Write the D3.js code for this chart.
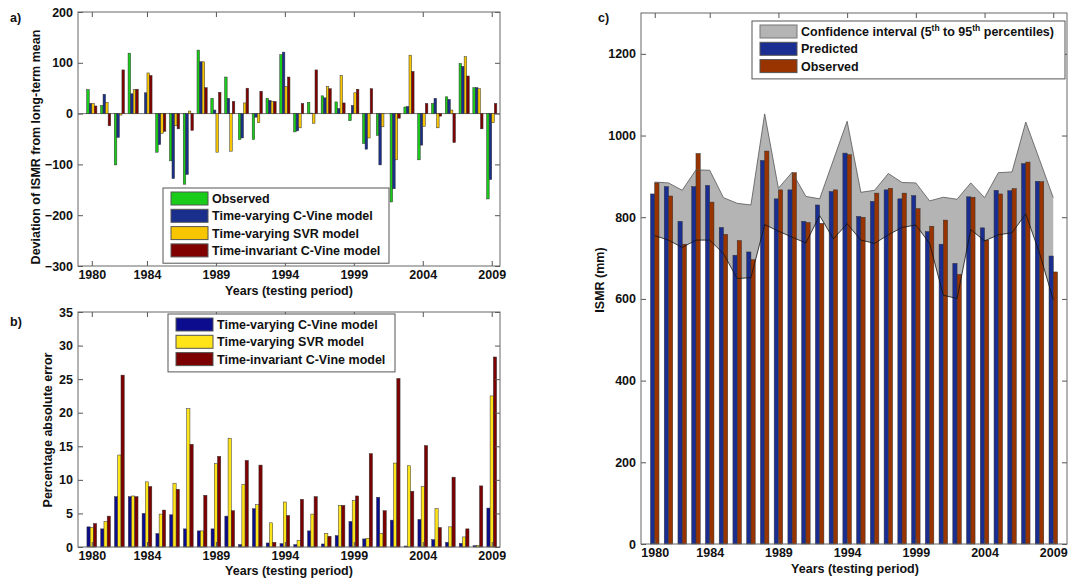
<!DOCTYPE html>
<html>
<head>
<meta charset="utf-8">
<script src="https://cdn.jsdelivr.net/npm/d3@7"></script>
<style>
  body { margin: 0; background: #fff; }
  text { font-family: "Liberation Sans", Arial, sans-serif; font-weight: bold; font-size: 12.5px; fill: #111; }
</style>
</head>
<body>
<script>
// data
var years = d3.range(1980, 2010);
var tickYears = [1980, 1984, 1989, 1994, 1999, 2004, 2009];

// panel a - deviation from long-term mean (mm)
var devObserved = [47, 16, -101, 119, 0, -76, -93, -139, 125, 30, 72, -51, -51, 30, 116, -36, 22, 35, 23, -14, -59, -43, -174, 13, -91, 20, 33, 99, 51, -168];
var devTvCVine = [20, 38, -47, 39, 41, -61, -128, -120, 102, 7, 30, -48, -7, 26, 121, -34, 1, 31, 10, 16, -70, -101, -148, 14, -62, 30, 28, 93, 51, -130];
var devTvSVR = [20, 22, -3, 47, 80, -39, -24, 5, 102, -76, -74, 21, -18, 24, 53, -28, -19, 53, 75, 41, -48, -26, -91, 115, -25, -28, 7, 112, 49, -18];
var devTiCVine = [15, -24, 86, 48, 75, -35, -30, -33, 51, 42, 24, 50, 44, 24, 72, 20, 86, 49, 21, 48, 49, 0, -9, 83, 20, -5, -57, 74, -30, 20];
var devNames = ["Observed", "Time-varying C-Vine model", "Time-varying SVR model", "Time-invariant C-Vine model"];

// panel b - percentage absolute error
var errTvCVine = [3.0, 2.7, 7.5, 7.5, 5.0, 2.0, 4.8, 2.7, 2.4, 2.7, 4.6, 0.35, 5.7, 0.6, 0.5, 0.35, 2.4, 0.45, 1.7, 3.8, 1.2, 7.4, 4.0, 0.15, 4.1, 1.1, 0.7, 0.55, 0.2, 5.8];
var errTvSVR = [2.9, 3.8, 13.7, 7.6, 9.7, 4.9, 9.5, 20.6, 2.4, 12.4, 16.2, 9.3, 6.3, 3.6, 6.7, 1.0, 4.9, 2.0, 6.2, 6.9, 1.3, 2.0, 12.5, 12.1, 9.0, 5.7, 3.0, 1.5, 0.25, 22.5];
var errTiCVine = [3.5, 4.6, 25.6, 7.5, 9.0, 5.5, 8.6, 15.3, 7.7, 13.5, 5.4, 12.9, 12.2, 0.7, 4.7, 7.1, 7.5, 1.6, 6.2, 7.6, 13.9, 5.4, 25.1, 8.3, 15.1, 2.9, 10.4, 2.7, 9.1, 28.3];
var errNames = ["Time-varying C-Vine model", "Time-varying SVR model", "Time-invariant C-Vine model"];

// panel c - ISMR (mm)
var ismrPredicted = [857, 875, 790, 875, 878, 775, 707, 715, 939, 845, 867, 790, 830, 863, 957, 802, 839, 867, 845, 853, 765, 734, 687, 850, 774, 866, 865, 931, 888, 705];
var ismrObserved = [884, 852, 734, 956, 837, 758, 743, 696, 962, 867, 909, 787, 785, 867, 953, 800, 859, 871, 859, 821, 778, 793, 660, 849, 744, 857, 870, 935, 887, 666];
var ciUpper = [886, 884, 866, 916, 915, 848, 834, 830, 1053, 871, 910, 851, 845, 940, 1035, 861, 866, 907, 885, 884, 840, 849, 844, 884, 848, 909, 911, 1033, 941, 848];
var ciLower = [755, 744, 726, 744, 744, 711, 650, 652, 782, 766, 751, 737, 804, 747, 784, 744, 736, 757, 775, 781, 736, 609, 601, 770, 742, 757, 762, 808, 712, 598];

var svg = d3.select("body")
  .append("svg")
  .attr("width", 1077)
  .attr("height", 579);

// box with inward ticks on all four sides, matlab style
function drawAxes(x, y, yTicks) {
  var x0 = x.range()[0], x1 = x.range()[1];
  var y0 = y.range()[1], y1 = y.range()[0];

  svg.append("g")
    .attr("transform", `translate(0, ${y1})`)
    .call(d3.axisBottom(x).tickValues(tickYears).tickFormat(d3.format("d")).tickSizeInner(-5).tickSizeOuter(0).tickPadding(4));
  svg.append("g")
    .attr("transform", `translate(0, ${y0})`)
    .call(d3.axisTop(x).tickValues(tickYears).tickFormat("").tickSizeInner(-5).tickSizeOuter(0));
  svg.append("g")
    .attr("transform", `translate(${x0}, 0)`)
    .call(d3.axisLeft(y).tickValues(yTicks).tickFormat(d3.format("d")).tickSizeInner(-5).tickSizeOuter(0).tickPadding(5));
  svg.append("g")
    .attr("transform", `translate(${x1}, 0)`)
    .call(d3.axisRight(y).tickValues(yTicks).tickFormat("").tickSizeInner(-5).tickSizeOuter(0));

  svg.selectAll(".domain").remove();
  svg.selectAll(".tick line").attr("stroke", "#555");
  svg.selectAll(".tick text").style("font-size", "12.5px").attr("fill", "#111");

  svg.append("rect")
    .attr("x", x0).attr("y", y0)
    .attr("width", x1 - x0).attr("height", y1 - y0)
    .attr("fill", "none")
    .attr("stroke", "#666")
    .attr("stroke-width", 1);
}

function groupedBars(x, y, seriesList, colors, bw) {
  var n = seriesList.length;
  seriesList.forEach(function(series, i) {
    svg.append("g").selectAll("rect")
      .data(series)
      .enter()
      .append("rect")
      .attr("x", (d, j) => x(years[j] - n * bw / 2 + i * bw))
      .attr("width", x(1980 + bw) - x(1980))
      .attr("y", d => y(Math.max(0, d)))
      .attr("height", d => Math.abs(y(d) - y(0)))
      .attr("fill", colors[i])
      .attr("stroke", "#333")
      .attr("stroke-width", 0.5);
  });
}

function legend(x, y, w, names, colors, strokes) {
  var rowH = 17.3;
  var g = svg.append("g").attr("transform", `translate(${x}, ${y})`);
  g.append("rect")
    .attr("width", w)
    .attr("height", names.length * rowH + 6)
    .attr("fill", "#fff")
    .attr("stroke", "#555");
  names.forEach(function(name, i) {
    g.append("rect")
      .attr("x", 8).attr("y", 4 + i * rowH)
      .attr("width", 37).attr("height", 13)
      .attr("fill", colors[i])
      .attr("stroke", strokes ? strokes[i] : "#555");
    g.append("text")
      .attr("x", 49).attr("y", 15 + i * rowH)
      .text(name);
  });
  return g;
}

// ---------- panel a ----------
var xA = d3.scaleLinear().domain([1979, 2009.6]).range([78, 500]);
var yA = d3.scaleLinear().domain([-300, 200]).range([266, 12]);
var colorsA = ["#19cc19", "#1a2f8c", "#f7c600", "#800000"];

svg.append("line")
  .attr("x1", xA(1979)).attr("x2", xA(2009.6))
  .attr("y1", yA(0)).attr("y2", yA(0))
  .attr("stroke", "#777");
groupedBars(xA, yA, [devObserved, devTvCVine, devTvSVR, devTiCVine], colorsA, 0.185);
drawAxes(xA, yA, d3.range(-300, 201, 100));
legend(163, 188, 226, devNames, colorsA);

svg.append("text").attr("x", 10).attr("y", 22).text("a)");
svg.append("text")
  .attr("transform", "rotate(-90)")
  .attr("x", -147).attr("y", 40)
  .attr("text-anchor", "middle")
  .text("Deviation of ISMR from long-term mean");
svg.append("text")
  .attr("x", 289).attr("y", 295)
  .attr("text-anchor", "middle")
  .text("Years (testing period)");

// ---------- panel b ----------
var xB = d3.scaleLinear().domain([1979, 2009.6]).range([78, 500]);
var yB = d3.scaleLinear().domain([0, 35]).range([547, 312]);
var colorsB = ["#0c0c8e", "#ffe41a", "#7d0000"];

groupedBars(xB, yB, [errTvCVine, errTvSVR, errTiCVine], colorsB, 0.235);
drawAxes(xB, yB, d3.range(0, 36, 5));
legend(168, 314, 227, errNames, colorsB);

svg.append("text").attr("x", 10).attr("y", 326).text("b)");
svg.append("text")
  .attr("transform", "rotate(-90)")
  .attr("x", -430).attr("y", 52)
  .attr("text-anchor", "middle")
  .text("Percentage absolute error");
svg.append("text")
  .attr("x", 289).attr("y", 575)
  .attr("text-anchor", "middle")
  .text("Years (testing period)");

// ---------- panel c ----------
var xC = d3.scaleLinear().domain([1979, 2010]).range([641, 1067]);
var yC = d3.scaleLinear().domain([0, 1300]).range([544, 13]);

var ciArea = d3.area()
  .x((d, i) => xC(years[i]))
  .y0((d, i) => yC(ciLower[i]))
  .y1(d => yC(d));

svg.append("path")
  .datum(ciUpper)
  .attr("d", ciArea)
  .attr("fill", "#b4b4b4");

groupedBars(xC, yC, [ismrPredicted, ismrObserved], ["#1a2e91", "#993300"], 0.31);

svg.append("path")
  .datum(ciUpper)
  .attr("d", d3.line().x((d, i) => xC(years[i])).y(d => yC(d)))
  .attr("fill", "none")
  .attr("stroke", "#555")
  .attr("stroke-width", 0.8);
svg.append("path")
  .datum(ciLower)
  .attr("d", d3.line().x((d, i) => xC(years[i])).y(d => yC(d)))
  .attr("fill", "none")
  .attr("stroke", "#111")
  .attr("stroke-width", 0.8);

drawAxes(xC, yC, d3.range(0, 1201, 200));

var legC = legend(752, 21, 313, ["", "Predicted", "Observed"], ["#b4b4b4", "#1a2e91", "#993300"], ["#777", "#555", "#555"]);
var ciText = legC.append("text").attr("x", 49).attr("y", 15);
ciText.append("tspan").text("Confidence interval (5");
ciText.append("tspan").attr("dy", -5).style("font-size", "8.5px").text("th");
ciText.append("tspan").attr("dy", 5).text(" to 95");
ciText.append("tspan").attr("dy", -5).style("font-size", "8.5px").text("th");
ciText.append("tspan").attr("dy", 5).text(" percentiles)");

svg.append("text").attr("x", 598).attr("y", 22).text("c)");
svg.append("text")
  .attr("transform", "rotate(-90)")
  .attr("x", -280).attr("y", 604)
  .attr("text-anchor", "middle")
  .text("ISMR (mm)");
svg.append("text")
  .attr("x", 855).attr("y", 573)
  .attr("text-anchor", "middle")
  .text("Years (testing period)");
</script>
</body>
</html>
